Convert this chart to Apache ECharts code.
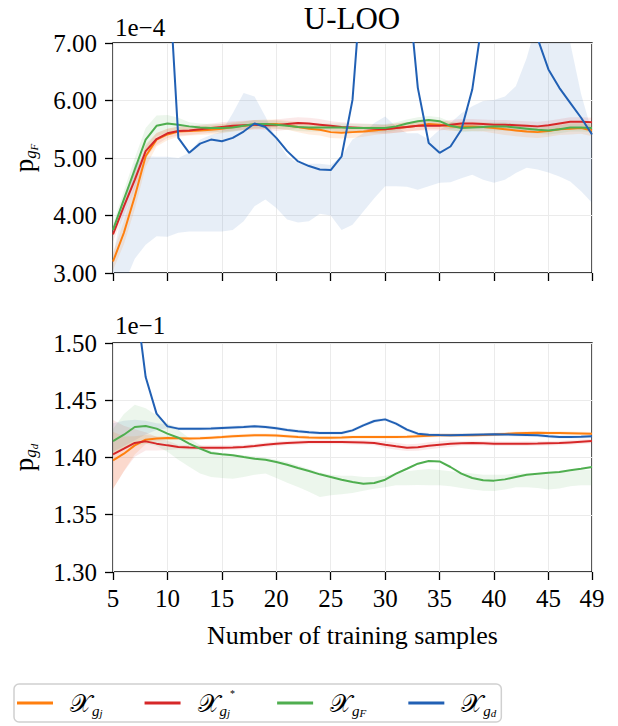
<!DOCTYPE html>
<html><head><meta charset="utf-8">
<script src="https://cdn.jsdelivr.net/npm/echarts@6/dist/echarts.min.js"></script>
<style>html,body{margin:0;padding:0;background:#fff}#c{width:618px;height:726px}</style>
</head><body><div id="c"></div>
<script>
// ---------- data ----------
const samples = [5,6,7,8,9,10,11,12,13,14,15,16,17,18,19,20,21,22,23,24,25,26,27,28,29,30,31,32,33,34,35,36,37,38,39,40,41,42,43,44,45,46,47,48,49];
const xTicks = [5,10,15,20,25,30,35,40,45,49];
const title = 'U-LOO';
const xName = 'Number of training samples';

// top panel (values x 1e-4)
const topGj  = [3.20,3.70,4.33,5.03,5.32,5.41,5.46,5.47,5.48,5.49,5.51,5.54,5.56,5.58,5.59,5.59,5.57,5.54,5.51,5.49,5.45,5.44,5.45,5.46,5.48,5.50,5.52,5.54,5.56,5.59,5.58,5.55,5.55,5.55,5.54,5.52,5.50,5.48,5.46,5.45,5.47,5.50,5.51,5.52,5.48];
const topGjs = [3.67,4.16,4.62,5.12,5.33,5.43,5.47,5.48,5.50,5.52,5.54,5.56,5.57,5.58,5.57,5.57,5.59,5.61,5.60,5.58,5.56,5.54,5.53,5.52,5.51,5.50,5.52,5.54,5.56,5.56,5.56,5.58,5.60,5.60,5.59,5.58,5.58,5.57,5.56,5.55,5.57,5.60,5.63,5.63,5.62];
const topGF  = [3.75,4.28,4.80,5.32,5.56,5.60,5.58,5.55,5.53,5.52,5.52,5.53,5.56,5.59,5.59,5.58,5.56,5.54,5.53,5.53,5.53,5.53,5.52,5.52,5.52,5.52,5.55,5.60,5.64,5.66,5.64,5.56,5.52,5.53,5.54,5.55,5.55,5.53,5.51,5.49,5.48,5.50,5.53,5.53,5.52];
const topGd  = [22,18,14,11.5,10,8.6,5.35,5.09,5.25,5.32,5.29,5.35,5.46,5.60,5.54,5.35,5.12,4.94,4.86,4.80,4.79,5.03,6.01,8.5,10.5,11.5,10.5,8.2,6.22,5.26,5.09,5.20,5.49,6.19,7.5,9.0,9.8,9.2,8.0,7.08,6.54,6.22,5.96,5.70,5.41];
const topGdLo = [2.4,2.8,3.25,3.49,3.64,3.63,3.70,3.72,3.72,3.72,3.72,3.75,3.90,4.16,4.28,4.13,3.93,3.88,3.90,4.03,4.00,3.75,3.84,4.07,4.30,4.51,4.51,4.50,4.45,4.51,4.57,4.58,4.65,4.71,4.62,4.57,4.62,4.74,4.83,4.80,4.75,4.68,4.59,4.42,4.22];
const topGdHi = [3.3,4.2,4.9,5.03,5.02,5.02,5.00,5.09,5.32,5.40,5.46,5.78,6.13,6.07,5.72,5.32,5.03,4.91,4.90,4.90,4.88,5.03,5.32,5.43,5.61,5.72,5.55,5.43,5.43,5.32,5.49,5.61,5.78,5.90,5.99,6.01,6.07,6.25,6.74,7.4,7.8,7.6,7.0,6.11,5.45];
const topGjHw  = [0.15,0.20,0.22,0.18,0.12,0.10,0.09,0.08,0.08,0.08,0.08,0.08,0.08,0.08,0.08,0.08,0.08,0.09,0.10,0.10,0.10,0.10,0.10,0.09,0.08,0.08,0.08,0.08,0.08,0.08,0.08,0.08,0.08,0.08,0.08,0.09,0.10,0.10,0.10,0.10,0.10,0.10,0.10,0.10,0.10];
const topGjsHw = [0.12,0.15,0.15,0.12,0.10,0.08,0.08,0.08,0.08,0.08,0.08,0.08,0.08,0.08,0.08,0.10,0.10,0.10,0.10,0.10,0.08,0.08,0.08,0.08,0.08,0.08,0.08,0.08,0.08,0.08,0.08,0.08,0.08,0.08,0.08,0.08,0.08,0.08,0.08,0.08,0.08,0.08,0.08,0.08,0.08];
const topGFHw  = [0.10,0.15,0.20,0.20,0.18,0.15,0.12,0.07,0.07,0.07,0.07,0.07,0.07,0.07,0.07,0.07,0.07,0.07,0.07,0.07,0.07,0.07,0.07,0.07,0.07,0.07,0.07,0.07,0.07,0.07,0.07,0.07,0.07,0.07,0.07,0.07,0.07,0.07,0.07,0.07,0.07,0.07,0.07,0.07,0.07];

// bottom panel (values x 1e-1)
const botGj  = [1.3975,1.4033,1.4106,1.4156,1.4165,1.4170,1.4168,1.4165,1.4168,1.4173,1.4178,1.4185,1.4190,1.4194,1.4194,1.4192,1.4186,1.4179,1.4175,1.4173,1.4173,1.4175,1.4178,1.4179,1.4179,1.4179,1.4180,1.4182,1.4186,1.4190,1.4194,1.4195,1.4195,1.4195,1.4197,1.4200,1.4206,1.4212,1.4215,1.4216,1.4215,1.4214,1.4212,1.4210,1.4208];
const botGjs = [1.4028,1.4077,1.4127,1.4141,1.4121,1.4106,1.4092,1.4088,1.4086,1.4086,1.4086,1.4088,1.4092,1.4100,1.4112,1.4120,1.4127,1.4131,1.4135,1.4135,1.4135,1.4135,1.4134,1.4132,1.4127,1.4112,1.4098,1.4086,1.4090,1.4103,1.4112,1.4121,1.4124,1.4126,1.4124,1.4121,1.4120,1.4120,1.4121,1.4122,1.4124,1.4126,1.4132,1.4138,1.4144];
const botGF  = [1.4144,1.4199,1.4266,1.4275,1.4252,1.4208,1.4173,1.4121,1.4077,1.4039,1.4028,1.4019,1.4004,1.3990,1.3981,1.3961,1.3937,1.3908,1.3882,1.3853,1.3830,1.3806,1.3786,1.3771,1.3777,1.3806,1.3859,1.3902,1.3946,1.3969,1.3966,1.3917,1.3859,1.3821,1.3801,1.3798,1.3809,1.3830,1.3850,1.3859,1.3867,1.3873,1.3888,1.3902,1.3917];
const botGd  = [1.70,1.62,1.545,1.4703,1.4383,1.4272,1.4252,1.4252,1.4252,1.4254,1.4258,1.4262,1.4266,1.4272,1.4266,1.4255,1.4240,1.4229,1.4220,1.4214,1.4214,1.4214,1.4237,1.4281,1.4319,1.4333,1.4296,1.4243,1.4208,1.4199,1.4196,1.4194,1.4196,1.4198,1.4200,1.4202,1.4201,1.4199,1.4197,1.4194,1.4185,1.4180,1.4180,1.4182,1.4185];
const botGFLo = [1.403,1.408,1.410,1.412,1.410,1.405,1.398,1.392,1.386,1.383,1.382,1.3815,1.383,1.385,1.386,1.382,1.378,1.3742,1.370,1.3655,1.367,1.368,1.369,1.371,1.3728,1.374,1.3757,1.3757,1.376,1.3757,1.3757,1.375,1.3733,1.372,1.371,1.3707,1.372,1.374,1.374,1.3733,1.372,1.373,1.375,1.3757,1.3757];
const botGFHi = [1.425,1.438,1.446,1.443,1.437,1.430,1.424,1.417,1.411,1.406,1.404,1.403,1.402,1.401,1.400,1.398,1.396,1.393,1.390,1.387,1.385,1.384,1.384,1.383,1.383,1.384,1.386,1.388,1.389,1.390,1.389,1.388,1.387,1.386,1.385,1.385,1.385,1.386,1.386,1.386,1.387,1.387,1.388,1.389,1.389];
const botGdLo = [1.405,1.410,1.415,1.420,1.424,1.4255,1.4237,1.4237,1.4237,1.4239,1.4243,1.4247,1.4251,1.4257,1.4251,1.4240,1.4225,1.4214,1.4205,1.4199,1.4199,1.4199,1.4222,1.4266,1.4304,1.4318,1.4281,1.4228,1.4193,1.4184,1.4181,1.4179,1.4181,1.4183,1.4185,1.4187,1.4186,1.4184,1.4182,1.4179,1.4170,1.4165,1.4165,1.4167,1.4170];
const botGdHi = [1.430,1.432,1.433,1.432,1.430,1.4290,1.4267,1.4267,1.4267,1.4269,1.4273,1.4277,1.4281,1.4287,1.4281,1.4270,1.4255,1.4244,1.4235,1.4229,1.4229,1.4229,1.4252,1.4296,1.4334,1.4348,1.4311,1.4258,1.4223,1.4214,1.4211,1.4209,1.4211,1.4213,1.4215,1.4217,1.4216,1.4214,1.4212,1.4209,1.4200,1.4195,1.4195,1.4197,1.4200];
const botGjHw  = [0.025,0.015,0.008,0.004,0.002,0.0015,0.0015,0.0015,0.0015,0.0015,0.0015,0.0015,0.0015,0.0015,0.0015,0.0015,0.0015,0.0015,0.0015,0.0015,0.0015,0.0015,0.0015,0.0015,0.0015,0.0015,0.0015,0.0015,0.0015,0.0015,0.0015,0.0015,0.0015,0.0015,0.0015,0.0015,0.0015,0.0015,0.0015,0.0015,0.0015,0.0015,0.0015,0.0015,0.0015];
const botGjsHw = [0.03,0.02,0.012,0.008,0.006,0.004,0.002,0.002,0.002,0.002,0.002,0.002,0.002,0.002,0.002,0.002,0.002,0.002,0.002,0.002,0.002,0.002,0.002,0.002,0.002,0.003,0.003,0.003,0.003,0.003,0.003,0.003,0.002,0.002,0.002,0.002,0.002,0.002,0.002,0.002,0.002,0.002,0.002,0.002,0.002];

const seriesNames = ['gj','gjs','gF','gd'];
const legendLabels = {
  gj:  '{X|\u{1D4B3}}{s|g}{ss|j}',
  gjs: '{X|\u{1D4B3}}{s|g}{ss|j}{sup|*}',
  gF:  '{X|\u{1D4B3}}{s|g}{ss|F}',
  gd:  '{X|\u{1D4B3}}{s|g}{ss|d}'
};
const colors = {gj:'#ff7f0e', gjs:'#d62728', gF:'#4fae4f', gd:'#2160b4'};
const bandColors = {gj:'rgba(255,127,14,0.13)', gjs:'rgba(214,39,40,0.10)', gF:'rgba(79,174,79,0.11)', gd:'rgba(33,96,180,0.11)'};

// ---------- chart ----------
const FONT = 'Liberation Serif';
const pts = arr => samples.map((x, i) => [x, arr[i]]);
const minus = (a, h) => a.map((v, i) => v - h[i]);
const plus = (a, h) => a.map((v, i) => v + h[i]);

function band(lo, hi, color, gi) {
  return {
    type: 'custom', xAxisIndex: gi, yAxisIndex: gi, clip: true, silent: true, z: 1,
    data: samples.map((x, i) => [x, lo[i], hi[i]]),
    encode: {x: 0, y: [1, 2]},
    renderItem: (params, api) => {
      if (params.dataIndex !== 0) return null;
      const upper = samples.map((x, i) => api.coord([x, hi[i]]));
      const lower = samples.map((x, i) => api.coord([x, lo[i]])).reverse();
      return {type: 'polygon', shape: {points: upper.concat(lower)}, style: {fill: color, stroke: null}};
    }
  };
}
function line(name, arr, gi) {
  return {name: name, type: 'line', xAxisIndex: gi, yAxisIndex: gi, data: pts(arr), symbol: 'none', showSymbol: false,
          clip: true, lineStyle: {color: colors[name], width: 2}, itemStyle: {color: colors[name]}, z: 3};
}

const series = [
  band(topGdLo, topGdHi, bandColors.gd, 0),
  band(minus(topGj, topGjHw), plus(topGj, topGjHw), bandColors.gj, 0),
  band(minus(topGjs, topGjsHw), plus(topGjs, topGjsHw), bandColors.gjs, 0),
  band(minus(topGF, topGFHw), plus(topGF, topGFHw), bandColors.gF, 0),
  line('gj', topGj, 0), line('gjs', topGjs, 0), line('gF', topGF, 0), line('gd', topGd, 0),
  band(botGdLo, botGdHi, bandColors.gd, 1),
  band(minus(botGj, botGjHw), plus(botGj, botGjHw), bandColors.gj, 1),
  band(minus(botGjs, botGjsHw), plus(botGjs, botGjsHw), bandColors.gjs, 1),
  band(botGFLo, botGFHi, bandColors.gF, 1),
  line('gj', botGj, 1), line('gjs', botGjs, 1), line('gF', botGF, 1), line('gd', botGd, 1)
];

const tick = {show: true, length: 8, lineStyle: {color: '#000', width: 1.3}};
const split = {show: true, lineStyle: {color: '#ebebeb', width: 1}};
const tickRich = {t: {fontFamily: FONT, fontSize: 25, color: '#000'}};
const xBase = {type: 'value', min: xTicks[0], max: xTicks[xTicks.length - 1], interval: 5,
  axisLine: {show: false}, axisTick: tick, splitLine: split};
const nameRich = {
  p: {fontFamily: FONT, fontSize: 27, lineHeight: 30, color: '#000'},
  g: {fontFamily: FONT, fontStyle: 'italic', fontSize: 17, lineHeight: 14, verticalAlign: 'bottom', color: '#000'},
  f: {fontFamily: FONT, fontStyle: 'italic', fontSize: 11, lineHeight: 8, verticalAlign: 'bottom', color: '#000'}
};

const option = {
  animation: false,
  backgroundColor: '#fff',
  textStyle: {fontFamily: FONT, color: '#000'},
  grid: [
    {left: 113, right: 26, top: 43, height: 230, show: true, borderColor: '#000', borderWidth: 1.3},
    {left: 113, right: 26, top: 343, height: 229, show: true, borderColor: '#000', borderWidth: 1.3}
  ],
  xAxis: [
    Object.assign({gridIndex: 0, axisLabel: {show: false}}, xBase),
    Object.assign({gridIndex: 1,
      axisLabel: {margin: 14, fontFamily: FONT, fontSize: 25, color: '#000', formatter: v => '{t|' + v + '}', rich: tickRich},
      name: xName, nameLocation: 'middle', nameGap: 50,
      nameTextStyle: {fontFamily: FONT, fontSize: 26, color: '#000'}}, xBase)
  ],
  yAxis: [
    {gridIndex: 0, type: 'value', min: 3, max: 7, interval: 1, axisLine: {show: false}, axisTick: tick, splitLine: split,
     axisLabel: {margin: 16, fontFamily: FONT, fontSize: 25, color: '#000', formatter: v => '{t|' + v.toFixed(2) + '}', rich: tickRich},
     name: '{p|p}{g|g}{f|F}', nameLocation: 'middle', nameRotate: 90, nameGap: 74, nameTextStyle: {rich: nameRich}},
    {gridIndex: 1, type: 'value', min: 1.30, max: 1.50, interval: 0.05, axisLine: {show: false}, axisTick: tick, splitLine: split,
     axisLabel: {margin: 16, fontFamily: FONT, fontSize: 25, color: '#000', formatter: v => '{t|' + v.toFixed(2) + '}', rich: tickRich},
     name: '{p|p}{g|g}{f|d}', nameLocation: 'middle', nameRotate: 90, nameGap: 74, nameTextStyle: {rich: nameRich}}
  ],
  legend: {
    data: seriesNames, left: 14, top: 684, orient: 'horizontal',
    icon: 'rect', itemWidth: 36, itemHeight: 3, itemGap: 42,
    padding: [4, 5, 4, 3], borderColor: '#d0d0d0', borderWidth: 1.5, borderRadius: 5,
    formatter: n => legendLabels[n],
    textStyle: {padding: [0, 0, 0, 12], rich: {
      X: {fontFamily: 'DejaVu Serif', fontSize: 25, lineHeight: 30, color: '#000'},
      s: {fontFamily: FONT, fontStyle: 'italic', fontSize: 15, lineHeight: 14, verticalAlign: 'bottom', color: '#000'},
      ss: {fontFamily: FONT, fontStyle: 'italic', fontSize: 11, lineHeight: 8, verticalAlign: 'bottom', color: '#000'},
      sup: {fontFamily: FONT, fontSize: 10, lineHeight: 20, verticalAlign: 'top', color: '#000'}
    }}
  },
  graphic: [
    {type: 'text', x: 352, y: 18, style: {text: title, align: 'center', verticalAlign: 'middle', fontFamily: FONT, fontSize: 31, fill: '#000'}},
    {type: 'text', x: 115, y: 27, style: {text: '1e\u22124', align: 'left', verticalAlign: 'middle', fontFamily: FONT, fontSize: 25, fill: '#000'}},
    {type: 'text', x: 115, y: 325, style: {text: '1e\u22121', align: 'left', verticalAlign: 'middle', fontFamily: FONT, fontSize: 25, fill: '#000'}}
  ],
  series: series
};

const chart = echarts.init(document.getElementById('c'), null, {renderer: 'svg'});
chart.setOption(option);
</script>
</body></html>
